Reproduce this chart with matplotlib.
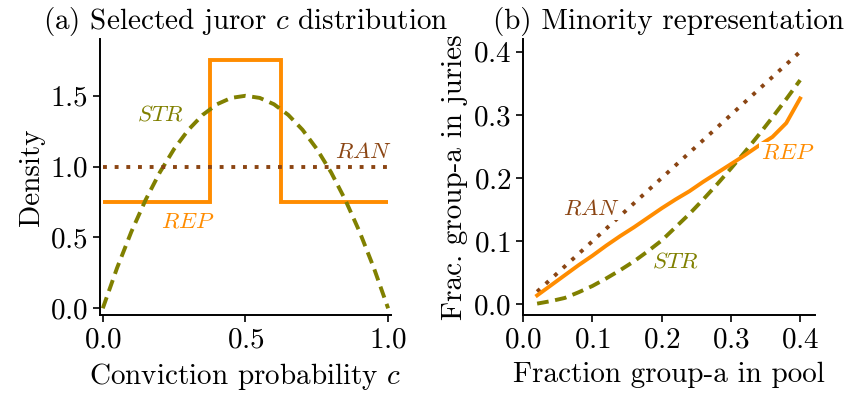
import numpy as np
import matplotlib
matplotlib.use("Agg")
import matplotlib.pyplot as plt

plt.rcParams['font.family'] = 'serif'
plt.rcParams['font.serif'] = ['cmr10']
plt.rcParams['mathtext.fontset'] = 'cm'
plt.rcParams['axes.formatter.use_mathtext'] = True
plt.rcParams['font.size'] = 21

# (a) selected juror c distribution
c_vals = [0.0, 0.05, 0.1, 0.15, 0.2, 0.25, 0.3, 0.35, 0.4, 0.45, 0.5,
          0.55, 0.6, 0.65, 0.7, 0.75, 0.8, 0.85, 0.9, 0.95, 1.0]
str_density = [0.0, 0.285, 0.54, 0.765, 0.96, 1.125, 1.26, 1.365, 1.44, 1.485, 1.5,
               1.485, 1.44, 1.365, 1.26, 1.125, 0.96, 0.765, 0.54, 0.285, 0.0]
ran_c = [0.0, 1.0]
ran_density = [1.0, 1.0]
rep_edges = [0.0, 0.375, 0.625, 1.0]
rep_density = [0.75, 1.75, 0.75]

# (b) minority representation
pool_frac = [0.02, 0.04, 0.06, 0.08, 0.10, 0.12, 0.14, 0.16, 0.18, 0.20,
             0.22, 0.24, 0.26, 0.28, 0.30, 0.32, 0.34, 0.36, 0.38, 0.40]
ran_jury = [0.02, 0.04, 0.06, 0.08, 0.10, 0.12, 0.14, 0.16, 0.18, 0.20,
            0.22, 0.24, 0.26, 0.28, 0.30, 0.32, 0.34, 0.36, 0.38, 0.40]
rep_jury = [0.014, 0.030, 0.046, 0.062, 0.077, 0.093, 0.108, 0.122, 0.137, 0.152,
            0.166, 0.179, 0.194, 0.208, 0.222, 0.236, 0.251, 0.265, 0.287, 0.326]
str_jury = [0.001, 0.005, 0.010, 0.019, 0.029, 0.041, 0.054, 0.068, 0.084, 0.101,
            0.122, 0.143, 0.166, 0.190, 0.215, 0.241, 0.268, 0.296, 0.325, 0.355]

col_rep = '#ff8c00'
col_ran = '#8b4513'
col_str = '#808000'
lw = 2.8
dot = (0, (1, 2))
dash = (0, (3.0, 1.7))

fig = plt.figure(figsize=(8.47, 4.01), dpi=100)
ax1 = fig.add_axes([0.118, 0.2145, 0.3436, 0.688])
ax2 = fig.add_axes([0.6178, 0.2145, 0.344, 0.688])

bb = dict(facecolor='white', edgecolor='none', pad=1)
fs = 16.5

ax1.plot(c_vals, str_density, color=col_str, lw=lw, ls=dash)
ax1.plot(ran_c, ran_density, color=col_ran, lw=lw, ls=dot)
ax1.stairs(rep_density, rep_edges, color=col_rep, lw=lw, baseline=None)
ax1.text(0.2, 1.365, '$STR$', color=col_str, fontsize=fs, ha='center', va='center', bbox=bb)
ax1.text(0.912, 1.106, '$RAN$', color=col_ran, fontsize=fs, ha='center', va='center', bbox=bb)
ax1.text(0.298, 0.61, '$REP$', color=col_rep, fontsize=fs, ha='center', va='center', bbox=bb)
ax1.set_xlim(-0.01, 1.01)
ax1.set_ylim(-0.047, 1.9)
ax1.set_xticks([0.0, 0.5, 1.0])
ax1.set_yticks([0.0, 0.5, 1.0, 1.5])
ax1.set_xlabel('Conviction probability $c$', labelpad=6)
ax1.set_ylabel('Density')
ax1.set_title('(a) Selected juror $c$ distribution', fontsize=21, pad=7)

ax2.plot(pool_frac, ran_jury, color=col_ran, lw=lw, ls=dot)
ax2.plot(pool_frac, str_jury, color=col_str, lw=lw, ls=dash)
ax2.plot(pool_frac, rep_jury, color=col_rep, lw=lw)
ax2.text(0.099, 0.152, '$RAN$', color=col_ran, fontsize=fs, ha='center', va='center', bbox=bb)
ax2.text(0.220, 0.067, '$STR$', color=col_str, fontsize=fs, ha='center', va='center', bbox=bb)
ax2.text(0.3815, 0.24, '$REP$', color=col_rep, fontsize=fs, ha='center', va='center', bbox=bb)
ax2.set_xlim(0, 0.421)
ax2.set_ylim(-0.017, 0.42)
ax2.set_xticks([0.0, 0.1, 0.2, 0.3, 0.4])
ax2.set_yticks([0.0, 0.1, 0.2, 0.3, 0.4])
ax2.set_xlabel('Fraction group-a in pool', labelpad=6)
ax2.set_ylabel('Frac. group-a in juries')
ax2.set_title('(b) Minority representation', fontsize=21, pad=7)

for ax in (ax1, ax2):
    ax.spines['top'].set_visible(False)
    ax.spines['right'].set_visible(False)
    for s in ('left', 'bottom'):
        ax.spines[s].set_linewidth(1.4)
    ax.tick_params(length=5, width=1.2)

fig.savefig('out.png', dpi=100)
